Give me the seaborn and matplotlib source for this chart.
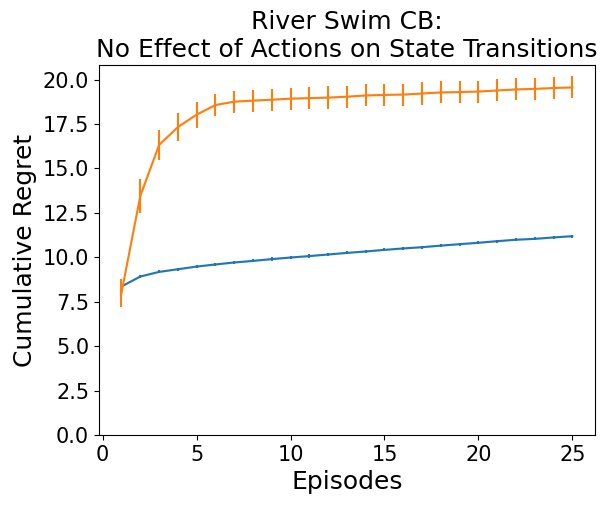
import pandas as pd
import seaborn as sns
from matplotlib import pyplot as plt

# episodes and mean cumulative regret
episodes = list(range(1, 26))
blue_mean = [8.36, 8.92, 9.18, 9.33, 9.48, 9.60, 9.71, 9.80, 9.90, 9.99,
             10.07, 10.16, 10.25, 10.33, 10.42, 10.50, 10.57, 10.66, 10.74,
             10.82, 10.91, 10.99, 11.04, 11.12, 11.19]
blue_err = [0.09] * 25
orange_mean = [8.00, 13.45, 16.32, 17.33, 18.03, 18.57, 18.76, 18.82, 18.87,
               18.93, 18.96, 18.99, 19.04, 19.11, 19.14, 19.16, 19.22, 19.28,
               19.30, 19.33, 19.39, 19.45, 19.48, 19.53, 19.56]
orange_err = [0.80, 0.95, 0.86, 0.81, 0.73, 0.64, 0.62, 0.62, 0.62, 0.62,
              0.63, 0.63, 0.62, 0.62, 0.63, 0.62, 0.62, 0.62, 0.63, 0.62,
              0.62, 0.62, 0.63, 0.63, 0.62]

df = pd.DataFrame({"Episodes": episodes,
                   "blue": blue_mean, "orange": orange_mean})

fig = plt.figure(figsize=(6.07, 5.07), dpi=100)
ax = fig.add_axes([0.163, 0.142, 0.817, 0.730])

for col, err, colour in [("blue", blue_err, "C0"), ("orange", orange_err, "C1")]:
    sns.lineplot(x="Episodes", y=col, data=df, color=colour, linewidth=1.5, ax=ax)
    ax.fill_between(df["Episodes"], df[col] - 0.04, df[col] + 0.04,
                    color=colour, alpha=0.2, linewidth=0)
    ax.errorbar(df["Episodes"], df[col], yerr=err, fmt="none",
                ecolor=colour, elinewidth=1.5)

ax.set_ylim(bottom=0)
ax.set_yticks([0, 2.5, 5, 7.5, 10, 12.5, 15, 17.5, 20])
ax.set_yticklabels(["0.0", "2.5", "5.0", "7.5", "10.0", "12.5", "15.0", "17.5", "20.0"])
ax.set_xticks([0, 5, 10, 15, 20, 25])
ax.tick_params(labelsize=15)
ax.set_xlabel("Episodes", fontsize=18)
ax.set_ylabel("Cumulative Regret", fontsize=18)
ax.set_title("River Swim CB:\nNo Effect of Actions on State Transitions", fontsize=18)

fig.savefig("out.png", dpi=100)
